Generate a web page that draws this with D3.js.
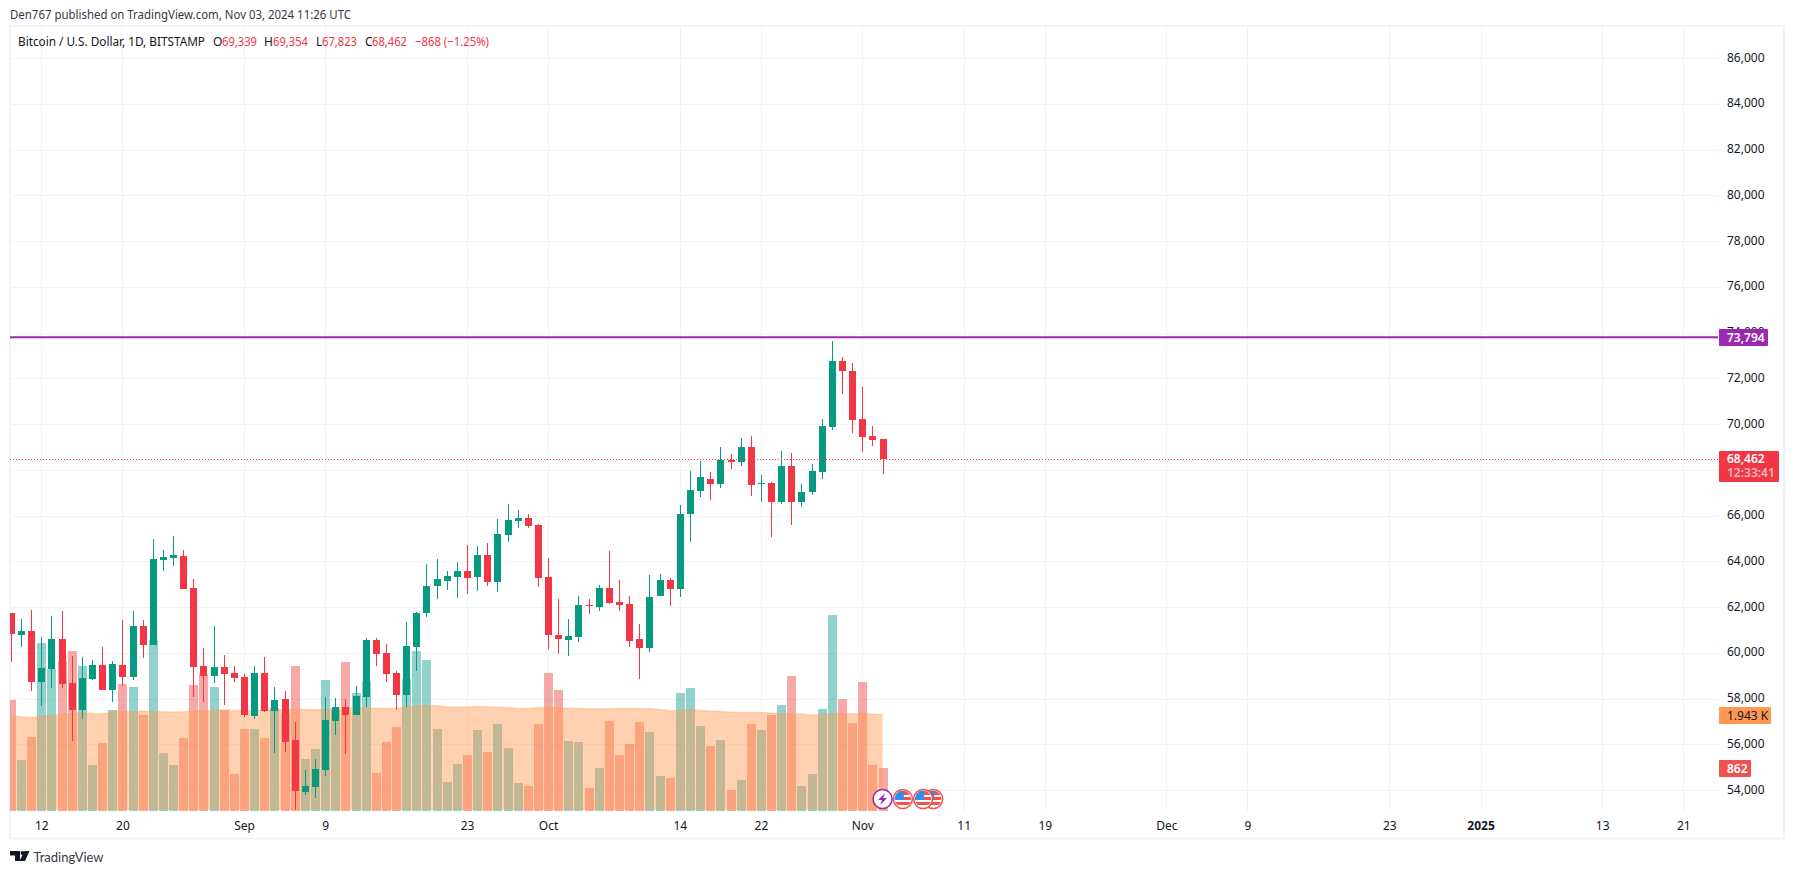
<!DOCTYPE html>
<html lang="en">
<head>
  <meta charset="UTF-8">
  <title>Bitcoin / U.S. Dollar, 1D, BITSTAMP</title>
  <script src="https://d3js.org/d3.v7.min.js"></script>
  <style>
    body { margin: 0; background: #fff; overflow: hidden; }
    svg { display: block; }
    text { font-family: "Noto Sans", sans-serif; font-size: 12px; fill: #131722; }
    .tick line { stroke: #f2f3f6; shape-rendering: crispEdges; }
  </style>
</head>
<body>
  <svg id="chart" width="1794" height="874"></svg>
  <script>
    // Daily bars, Aug 9 to Nov 3 2024
    const firstDay = new Date(Date.UTC(2024, 7, 9));
    const open = [
      61743, 60784, 60958, 58706, 59302, 60609, 58691, 57514, 58866, 59476, 58386, 59476, 58953, 61176, 60348, 64053, 64140, 64227, 62832, 59432, 58996, 59389, 59127,
      58953, 57253, 59127, 57471, 57994, 56207, 53897, 54115, 54856, 57035, 57645, 57297, 58081, 60566, 59999, 59127, 58168, 60261, 61743, 62920, 63138, 63312, 63574, 63312, 64271, 63094, 65143, 65753, 65884, 65578,
      63312, 60784, 60566, 60697, 62091, 62004, 62832, 62222, 62135, 60609, 60217, 62484, 63181, 62789, 66049, 67054, 67621, 67359, 68451, 68364, 69019, 67359, 67403, 66573, 68189, 66573, 67010, 67927, 69893, 72776, 72339,
      70242, 69500, 69339
    ];
    const high = [
      61743, 61481, 61873, 60697, 61612, 61830, 59868, 59825, 59694, 60261, 59650, 61438, 61830, 61438, 64968, 64489, 65099, 64489, 63225, 60217, 61176, 59912, 59432,
      59084, 59432, 59825, 58517, 58343, 56991, 54856, 55335, 58081, 58038, 57994, 58561, 60653, 60653, 60391, 59214, 61350, 61786, 63879, 64097, 63574, 63966, 64707, 64663, 64794, 65840, 66494, 66232, 66058, 65622,
      64140, 62353, 61481, 62484, 62353, 62963, 64445, 63181, 62484, 61263, 63399, 63443, 63268, 66450, 67971, 68408, 67927, 69019, 68713, 69412, 69500, 67796, 67447, 68844, 68757, 67359, 68277, 70242, 73649, 72950, 72688,
      71640, 69936, 69354
    ];
    const low = [
      59578, 60261, 58343, 57689, 58473, 58473, 56163, 57122, 58822, 58386, 57863, 58561, 58822, 59781, 60348, 63574, 63791, 62789, 58081, 57863, 58691, 57732, 58735,
      57209, 57122, 57427, 55597, 55640, 53112, 53766, 53635, 54594, 56425, 55553, 57297, 57645, 59432, 58735, 57514, 57645, 59214, 61568, 62353, 62745, 62397, 62571, 62702, 62920, 62658, 64838, 65448, 65448, 62876,
      60173, 59955, 59868, 60479, 61699, 61830, 62135, 61830, 60261, 58866, 60043, 62484, 62048, 62440, 64826, 66792, 66660, 67185, 68058, 68146, 66835, 66573, 65044, 66486, 65568, 66355, 66879, 67578, 69762, 71334, 69631,
      68801, 69063, 67823
    ];
    const close = [
      60842, 60958, 58706, 59345, 60609, 58648, 57514, 58909, 59476, 58386, 59520, 58953, 61176, 60348, 64097, 64184, 64271, 62789, 59389, 58996, 59389, 59084, 58909,
      57297, 59127, 57471, 57950, 56120, 53940, 54158, 54899, 57079, 57645, 57297, 58125, 60566, 59955, 59084, 58168, 60304, 61743, 62920, 63225, 63356, 63574, 63268, 64271, 63094, 65186, 65797, 65884, 65535, 63268,
      60784, 60609, 60740, 62091, 62048, 62832, 62179, 62091, 60522, 60217, 62440, 63181, 62789, 66058, 67097, 67665, 67359, 68451, 68364, 69019, 67316, 67403, 66573, 68189, 66573, 67010, 67971, 69936, 72776, 72339, 70199,
      69456, 69325, 68462
    ];
    const volume = [
      2228, 1024, 1485, 3372, 2850, 3010, 3211, 2910, 923, 1365, 2027, 2549, 2489, 1927, 3432, 1164, 923, 1465, 2529, 2750, 2489, 2027, 743,
      1646, 1646, 1465, 2067, 1960, 2910, 1044, 1244, 2629, 2027, 2990, 2368, 2609, 763, 1385, 1686, 2649, 3211, 3031, 1646, 582, 943, 1124, 1626, 1184, 1746, 1264, 562, 502, 1746,
      2770, 2428, 1405, 1385, 462, 863, 1806, 1124, 1345, 1786, 1586, 702, 662, 2368, 2469, 1706, 1305, 1425, 421, 622, 1746, 1626, 1927, 2127, 2709, 502, 743, 2047, 3934, 2248, 1766,
      2589, 923, 862
    ];
    const volumeMa = [
      1907, 1893, 1880, 1907, 1920, 1940, 1960, 1974, 1960, 1947, 1994, 1994, 2000, 2007, 2000, 1994, 1987, 1994, 2007, 2014, 2020, 2027, 2020,
      2014, 2020, 2027, 2040, 2040, 2047, 2040, 2034, 2047, 2067, 2067, 2074, 2081, 2067, 2060, 2060, 2094, 2114, 2127, 2114, 2094, 2087, 2094, 2100, 2094, 2087, 2081, 2067, 2060, 2074,
      2087, 2074, 2067, 2060, 2054, 2047, 2054, 2060, 2060, 2060, 2054, 2040, 2014, 2027, 2034, 2020, 2007, 2000, 1987, 1980, 1980, 1980, 1967, 1960, 1960, 1947, 1927, 1940, 1960, 1960, 1953,
      1960, 1947, 1943
    ];

    const priceTicks = [54000, 56000, 58000, 60000, 62000, 64000, 66000, 68000, 70000, 72000, 74000, 76000, 78000, 80000, 82000, 84000, 86000];
    const timeTicks = ["2024-08-12", "2024-08-20", "2024-09-01", "2024-09-09", "2024-09-23", "2024-10-01", "2024-10-14", "2024-10-22", "2024-11-01", "2024-11-11", "2024-11-19", "2024-12-01", "2024-12-09", "2024-12-23", "2025-01-01", "2025-01-13", "2025-01-21"];
    const timeLabels = ["12", "20", "Sep", "9", "23", "Oct", "14", "22", "Nov", "11", "19", "Dec", "9", "23", "2025", "13", "21"];

    const resistance = 73794;
    const lastPrice = 68462;
    const countdown = "12:33:41";
    const eventDates = ["2024-11-08", "2024-11-07", "2024-11-05", "2024-11-03"];
    const eventKinds = ["flag", "flag", "flag", "bolt"];

    const green = "#089981", red = "#f23645", purple = "#9c27b0", orange = "#ff9850";
    const volUp = "rgba(38,166,154,0.5)", volDown = "rgba(239,83,80,0.5)";

    // Plot frame
    const plot = {left: 10, top: 27, right: 1718, bottom: 811};
    const svg = d3.select("#chart");
    const utc = d3.utcParse("%Y-%m-%d");
    const days = d3.range(open.length).map(i => d3.utcDay.offset(firstDay, i));

    const x = d3.scaleUtc().domain([utc("2024-08-12"), utc("2024-11-01")]).range([41.3, 862.3]);
    const y = d3.scaleLinear().domain([54000, 86000]).range([790, 58.2]);
    const yVol = d3.scaleLinear().domain([0, 1943]).range([plot.bottom, 714.3]);

    svg.append("defs").append("clipPath").attr("id", "plotClip")
      .append("rect").attr("x", plot.left).attr("y", plot.top)
      .attr("width", plot.right - plot.left).attr("height", plot.bottom - plot.top);

    // Panel border
    svg.append("rect").attr("x", 10).attr("y", 26).attr("width", 1774).attr("height", 812.5)
      .attr("fill", "none").attr("stroke", "#f0f3fa").attr("stroke-width", 2);

    // Axes, their ticks double as the grid
    const labelByTime = new Map(timeTicks.map((t, i) => [+utc(t), timeLabels[i]]));
    const xAxis = svg.append("g").attr("transform", `translate(0,${plot.bottom})`)
      .call(d3.axisBottom(x).tickValues(timeTicks.map(utc)).tickFormat(d => labelByTime.get(+d))
        .tickSize(-(plot.bottom - plot.top)).tickPadding(10));
    xAxis.select(".domain").remove();
    xAxis.selectAll("text").attr("fill", null).style("font-size", "12px")
      .style("font-weight", d => d.getUTCFullYear() === 2025 && d.getUTCMonth() === 0 && d.getUTCDate() === 1 ? "bold" : null);

    const yAxis = svg.append("g").attr("transform", `translate(${plot.right},0)`)
      .call(d3.axisRight(y).tickValues(priceTicks).tickFormat(d3.format(","))
        .tickSize(-(plot.right - plot.left)).tickPadding(9));
    yAxis.select(".domain").remove();
    yAxis.selectAll("text").attr("fill", null).attr("dy", "0.25em").style("font-size", "12px");

    const chart = svg.append("g").attr("clip-path", "url(#plotClip)");

    // Volume bars
    chart.append("g").selectAll("rect").data(days).join("rect")
      .attr("x", d => Math.round(x(d)) - 4.5 + 0.5)
      .attr("width", 9)
      .attr("y", (d, i) => Math.round(yVol(volume[i])))
      .attr("height", (d, i) => plot.bottom - Math.round(yVol(volume[i])))
      .attr("fill", (d, i) => close[i] >= open[i] ? volUp : volDown)
      .attr("shape-rendering", "crispEdges");

    // Volume moving average, the area stops 1px above the bars' base
    chart.append("path")
      .attr("d", d3.area().x(d => x(d)).y0(plot.bottom - 1).y1((d, i) => yVol(volumeMa[i]))(days))
      .attr("fill", "rgba(255,152,80,0.45)");
    chart.append("path")
      .attr("d", d3.line().x(d => x(d)).y((d, i) => yVol(volumeMa[i]))(days))
      .attr("fill", "none").attr("stroke", "rgba(255,152,80,0.3)").attr("stroke-width", 1.5);

    // Candles
    const candles = chart.append("g").attr("shape-rendering", "crispEdges");
    candles.selectAll("line").data(days).join("line")
      .attr("x1", d => Math.round(x(d)) + 0.5)
      .attr("x2", d => Math.round(x(d)) + 0.5)
      .attr("y1", (d, i) => Math.round(y(high[i])))
      .attr("y2", (d, i) => Math.round(y(low[i])))
      .attr("stroke", (d, i) => close[i] >= open[i] ? green : red);
    candles.selectAll("rect").data(days).join("rect")
      .attr("x", d => Math.round(x(d)) - 3)
      .attr("width", 7)
      .attr("y", (d, i) => Math.round(y(Math.max(open[i], close[i]))))
      .attr("height", (d, i) => Math.max(1, Math.round(y(Math.min(open[i], close[i]))) - Math.round(y(Math.max(open[i], close[i])))))
      .attr("fill", (d, i) => close[i] >= open[i] ? green : red);

    // Horizontal line and last price line
    svg.append("line").attr("x1", plot.left).attr("x2", plot.right)
      .attr("y1", y(resistance)).attr("y2", y(resistance))
      .attr("stroke", purple).attr("stroke-width", 2);
    svg.append("line").attr("x1", plot.left).attr("x2", plot.right)
      .attr("y1", Math.round(y(lastPrice)) + 0.5).attr("y2", Math.round(y(lastPrice)) + 0.5)
      .attr("stroke", red).attr("stroke-dasharray", "1 2").attr("shape-rendering", "crispEdges");

    // Price scale labels
    function badge(top, h, w, fill) {
      svg.append("rect").attr("x", 1719).attr("y", top).attr("width", w).attr("height", h).attr("rx", 1).attr("fill", fill);
    }
    function badgeText(txt, top, fill, weight) {
      svg.append("text").attr("x", 1727).attr("y", top).text(txt)
        .style("fill", fill).style("font-size", "12px").style("font-weight", weight || null);
    }
    badge(329, 17, 49, purple);
    badgeText(d3.format(",")(resistance), 342, "#fff", 600);
    badge(451, 31, 60, red);
    badgeText(d3.format(",")(lastPrice), 463, "#fff", 600);
    badgeText(countdown, 477, "#fbb9bf", 600);
    badge(707, 17, 52, orange);
    badgeText("1.943 K", 720, "#131722");
    badge(760, 17, 32, "#ef5350");
    badgeText(d3.format(",")(volume[volume.length - 1]), 773, "#fff", 600);

    // Event icons on the time axis
    const iconY = 799;
    eventDates.forEach((d, i) => {
      const g = svg.append("g").attr("transform", `translate(${x(utc(d))},${iconY})`);
      if (eventKinds[i] === "bolt") {
        g.append("circle").attr("r", 9.5).attr("fill", "#fff").attr("stroke", purple).attr("stroke-width", 1.5);
        g.append("path").attr("d", "M2.5 -6 L-4.5 1 H-0.5 L-2.5 6 L4.5 -1 H0.5 Z").attr("fill", purple);
      } else {
        const id = "flag" + i;
        g.append("clipPath").attr("id", id).append("circle").attr("r", 8.2);
        g.append("circle").attr("r", 9.5).attr("fill", "#fff").attr("stroke", "#ef5350").attr("stroke-width", 1.5);
        const f = g.append("g").attr("clip-path", `url(#${id})`);
        f.append("rect").attr("x", -9).attr("y", -9).attr("width", 18).attr("height", 18).attr("fill", "#fff");
        f.append("rect").attr("x", -9).attr("y", -9).attr("width", 18).attr("height", 5).attr("fill", "#ef5350");
        f.append("rect").attr("x", -9).attr("y", -2).attr("width", 18).attr("height", 3).attr("fill", "#ef5350");
        f.append("rect").attr("x", -9).attr("y", 3).attr("width", 18).attr("height", 3).attr("fill", "#ef5350");
        f.append("rect").attr("x", -9).attr("y", -9).attr("width", 10).attr("height", 10).attr("fill", "#2f8fe8");
      }
    });

    // Header and legend
    svg.append("text").attr("x", 10).attr("y", 19).text("Den767 published on TradingView.com, Nov 03, 2024 11:26 UTC")
      .attr("textLength", 341).attr("lengthAdjust", "spacingAndGlyphs").style("fill", "#363a45");
    svg.append("text").attr("x", 18).attr("y", 46).text("Bitcoin / U.S. Dollar, 1D, BITSTAMP")
      .attr("textLength", 187).attr("lengthAdjust", "spacingAndGlyphs");
    const legendLetters = [["O", 213], ["H", 264], ["L", 316], ["C", 365]];
    const legendValues = [["69,339", 222, 35], ["69,354", 273, 35], ["67,823", 322, 35], ["68,462", 372, 35], ["\u2212868 (\u22121.25%)", 415, 74]];
    legendLetters.forEach(d => svg.append("text").attr("x", d[1]).attr("y", 46).text(d[0]));
    legendValues.forEach(d => svg.append("text").attr("x", d[1]).attr("y", 46).text(d[0])
      .attr("textLength", d[2]).attr("lengthAdjust", "spacingAndGlyphs").style("fill", red));

    // Footer logo
    svg.append("path").attr("d", "M10 851 H20 V861 H15 V855.5 H10 Z").attr("fill", "#131722");
    svg.append("circle").attr("cx", 22.5).attr("cy", 853).attr("r", 2).attr("fill", "#131722");
    svg.append("path").attr("d", "M24.5 851 H29.5 L25 861 H19.5 Z").attr("fill", "#131722");
    svg.append("text").attr("x", 33.5).attr("y", 861.5).text("TradingView")
      .attr("textLength", 70).attr("lengthAdjust", "spacingAndGlyphs")
      .style("font-family", "Lato, sans-serif").style("font-size", "14px").style("fill", "#363a45");
  </script>
</body>
</html>
